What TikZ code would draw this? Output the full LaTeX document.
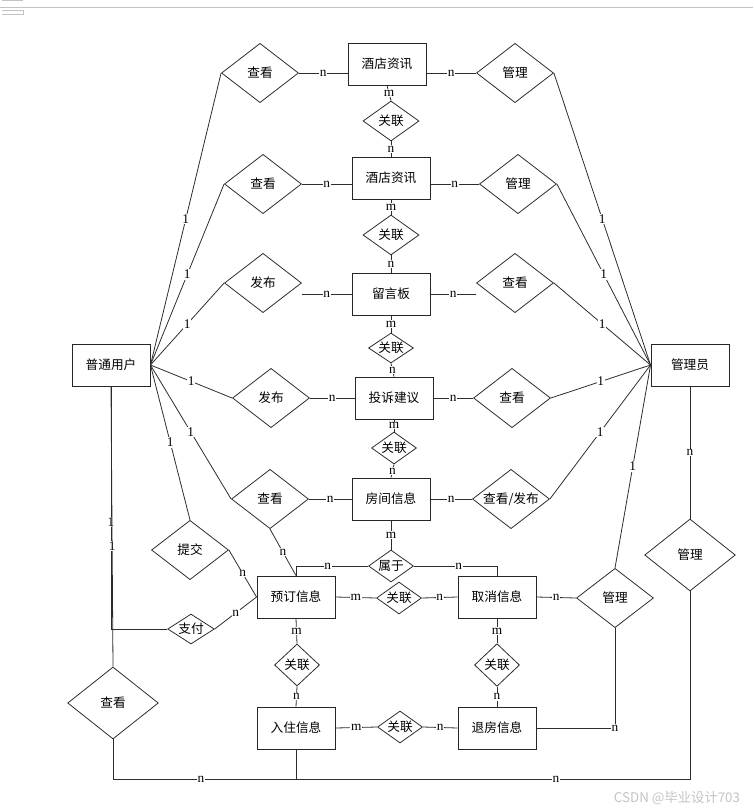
\documentclass[tikz,border=0pt]{standalone}
\usepackage{fontspec}
\setmainfont{Liberation Serif}
\newfontfamily\cjk{Noto Sans CJK SC}
\usepackage{tikz}
\usetikzlibrary{shapes.geometric, positioning, calc}
\definecolor{linegray}{RGB}{45,45,45}
\definecolor{markgray}{RGB}{195,195,195}

\begin{document}
\begin{tikzpicture}[x=0.75pt, y=-0.75pt,
  ent/.style={draw=black!85, line width=0.7pt, minimum width=58.5pt,
              minimum height=31.5pt, inner sep=0pt,
              font=\cjk\fontsize{9.5}{11}\selectfont},
  rel/.style={diamond, draw=linegray, line width=0.6pt, inner sep=0pt,
              shape aspect=1.3, minimum width=57.75pt, minimum height=44.5pt,
              font=\cjk\fontsize{9.5}{11}\selectfont},
  relsm/.style={rel, shape aspect=1.5, minimum width=33.75pt, minimum height=24pt},
  relbig/.style={rel, minimum width=68pt, minimum height=54pt},
  link/.style={draw=linegray, line width=0.6pt},
  card/.style={fill=white, inner sep=0.6pt, font=\fontsize{10}{11}\selectfont},
]
\useasboundingbox (0,0) rectangle (753,812);

\node[ent] (zx1) at (387,64) {酒店资讯};
\node[ent] (zx2) at (391,178) {酒店资讯};
\node[ent] (lyb) at (391,294) {留言板};
\node[ent] (ts) at (394,398) {投诉建议};
\node[ent] (fj) at (391,499) {房间信息};
\node[ent] (yd) at (296,597) {预订信息};
\node[ent] (qx) at (497,597) {取消信息};
\node[ent] (rz) at (296,728) {入住信息};
\node[ent] (tf) at (497,728) {退房信息};
\node[ent] (user) at (111,365) {普通用户};
\node[ent] (admin) at (690,365) {管理员};

\node[rel] (ck1) at (260,73) {查看};
\node[rel] (gl1) at (515,73) {管理};
\node[rel] (ck2) at (263,184) {查看};
\node[rel] (gl2) at (518,184) {管理};
\node[rel] (fb1) at (263,283) {发布};
\node[rel] (ck3) at (515,283) {查看};
\node[rel] (fb2) at (271,398) {发布};
\node[rel] (ck4) at (512,398) {查看};
\node[rel] (ck5) at (270,499) {查看};
\node[rel] (ckfb) at (511,499) {查看/发布};
\node[rel] (tj) at (190,550) {提交};
\node[rel] (gl3) at (615,598) {管理};
\node[relbig] (ck6) at (113,703) {查看};
\node[relbig] (gl4) at (690,555) {管理};

\node[relsm, minimum width=42pt, minimum height=30pt] (gx1) at (391,121) {关联};
\node[relsm, minimum width=42pt, minimum height=30pt] (gx2) at (391,235) {关联};
\node[relsm, minimum height=22.5pt] (gx3) at (391,348) {关联};
\node[relsm] (gx4) at (394,448) {关联};
\node[relsm] (sy) at (391,566) {属于};
\node[relsm] (gx5) at (399,598) {关联};
\node[relsm, minimum width=35pt, minimum height=22.5pt] (zf) at (191,629) {支付};
\node[relsm, shape aspect=1, minimum height=31.5pt] (gx6) at (297,665) {关联};
\node[relsm] (gx7) at (400,727) {关联};
\node[relsm, shape aspect=1, minimum height=32pt] (gx8) at (497,665) {关联};

\draw[link] (ck1.east) -- node[card] {n} (ck1.east -| zx1.west);
\draw[link] (zx1.east |- gl1.west) -- node[card] {n} (gl1.west);
\draw[link] (zx1.south) -- node[card] {m} (gx1.north);
\draw[link] (gx1.south) -- node[card] {n} (zx2.north);
\draw[link] (ck2.east) -- node[card] {n} (ck2.east -| zx2.west);
\draw[link] (zx2.east |- gl2.west) -- node[card] {n} (gl2.west);
\draw[link] (zx2.south) -- node[card] {m} (gx2.north);
\draw[link] (gx2.south) -- node[card] {n} (lyb.north);
\draw[link] (fb1.east |- lyb.west) -- node[card] {n} (lyb.west);
\draw[link] (lyb.east) -- node[card] {n} (lyb.east -| ck3.west);
\draw[link] (lyb.south) -- node[card] {m} (gx3.north);
\draw[link] (gx3.south) -- node[card] {n} (ts.north);
\draw[link] (fb2.east) -- node[card] {n} (ts.west);
\draw[link] (ts.east) -- node[card] {n} (ck4.west);
\draw[link] (ts.south) -- node[card] {m} (gx4.north);
\draw[link] (gx4.south) -- node[card] {n} (fj.north);
\draw[link] (ck5.east) -- node[card] {n} (fj.west);
\draw[link] (fj.east) -- node[card] {n} (ckfb.west);
\draw[link] (fj.south) -- node[card] {m} (sy.north);
\draw[link] (sy.west) -| node[card, pos=0.28] {n} (yd.north);
\draw[link] (sy.east) -| node[card, pos=0.27] {n} (qx.north);
\draw[link] (yd.east) -- node[card] {m} (gx5.west);
\draw[link] (gx5.east) -- node[card] {n} (qx.west);
\draw[link] (qx.east) -- node[card] {n} (gl3.west);
\draw[link] (yd.south) -- node[card] {m} (gx6.north);
\draw[link] (gx6.south) -- node[card] {n} (rz.north);
\draw[link] (qx.south) -- node[card] {m} (gx8.north);
\draw[link] (gx8.south) -- node[card] {n} (tf.north);
\draw[link] (rz.east) -- node[card] {m} (gx7.west);
\draw[link] (gx7.east) -- node[card] {n} (tf.west);
\draw[link] (tf.east) -| node[card, pos=0.5] {n} (gl3.south);

\foreach \r in {ck1,ck2,fb1,fb2,ck5}
  \draw[link] (user.east) -- node[card] {1} (\r.west);
\draw[link] (user.east) -- node[card] {1} (tj.north);
\foreach \r in {gl1,gl2,ck3,ck4,ckfb}
  \draw[link] (admin.west) -- node[card] {1} (\r.east);
\draw[link] (admin.west) -- node[card] {1} (gl3.north);

\draw[link] (ck5.south) -- node[card] {n} (yd.north);
\draw[link] (tj.east) -- node[card] {n} (yd.west);
\draw[link] (zf.east) -- node[card] {n} (yd.west);
\draw[link] (user.south) |- node[card, pos=0.28] {1} (zf.west);
\draw[link] (user.south) -- node[card, pos=0.57] {1} (ck6.north);
\draw[link] (admin.south) -- node[card] {n} (gl4.north);

\coordinate (bot) at (rz.south |- 0,779);
\draw[link] (ck6.south) |- node[card, pos=0.74] {n} (bot) -- (rz.south);
\draw[link] (gl4.south) |- node[card, pos=0.67] {n} (bot);

\draw[markgray, line width=1.2pt] (0,7.5) -- (753,7.5);
\draw[markgray, line width=0.5pt] (2,0.5) -- (23,0.5) (2,10) -- (23,10) -- (23,14) -- (2,14);
\node[text=markgray, font=\cjk\fontsize{10}{12}\selectfont] (wm) at (677,798) {CSDN @毕业设计703};
\end{tikzpicture}
\end{document}
